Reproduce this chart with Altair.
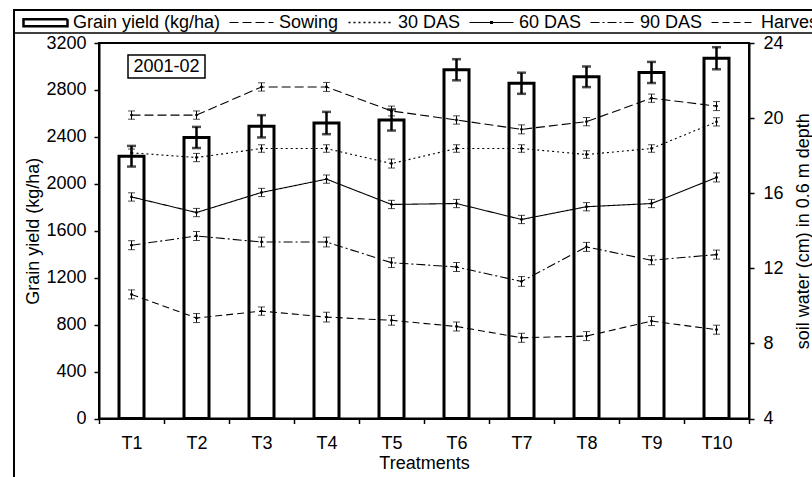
import altair as alt
import pandas as pd

# ---- data -------------------------------------------------------------
treatments = ["T1", "T2", "T3", "T4", "T5", "T6", "T7", "T8", "T9", "T10"]

grain_yield = [2235, 2395, 2490, 2518, 2544, 2972, 2857, 2912, 2949, 3070]
grain_yield_err = [88, 90, 95, 95, 90, 90, 90, 88, 90, 94]

series_names = ["Sowing", "30 DAS", "60 DAS", "90 DAS", "Harvest"]
water_sowing = [20.16, 20.16, 21.66, 21.66, 20.38, 19.90, 19.40, 19.81, 21.06, 20.64]
water_30das = [18.15, 17.90, 18.38, 18.38, 17.58, 18.38, 18.38, 18.06, 18.38, 19.80]
water_60das = [15.80, 14.97, 16.04, 16.75, 15.40, 15.45, 14.60, 15.28, 15.45, 16.84]
water_90das = [13.23, 13.72, 13.40, 13.40, 12.30, 12.07, 11.30, 13.14, 12.43, 12.73]
water_harvest = [10.61, 9.35, 9.72, 9.40, 9.23, 8.90, 8.30, 8.39, 9.19, 8.73]

err_sowing = [0.22, 0.22, 0.22, 0.24, 0.26, 0.22, 0.24, 0.22, 0.22, 0.24]
err_30das = [0.20, 0.22, 0.20, 0.20, 0.24, 0.20, 0.20, 0.20, 0.20, 0.22]
err_60das = [0.22, 0.22, 0.22, 0.22, 0.22, 0.22, 0.22, 0.22, 0.22, 0.24]
err_90das = [0.24, 0.24, 0.26, 0.26, 0.26, 0.24, 0.26, 0.24, 0.24, 0.24]
err_harvest = [0.24, 0.24, 0.22, 0.26, 0.26, 0.24, 0.24, 0.24, 0.24, 0.24]

season_label = "2001-02"
yield_label = "Grain yield (kg/ha)"

# ---- tables -----------------------------------------------------------
yield_df = pd.DataFrame({"treatment": treatments, "grain_yield": grain_yield,
                         "err": grain_yield_err})

water_values = [water_sowing, water_30das, water_60das, water_90das, water_harvest]
water_errs = [err_sowing, err_30das, err_60das, err_90das, err_harvest]
rows = []
for name, vals, errs in zip(series_names, water_values, water_errs):
    for t, v, e in zip(treatments, vals, errs):
        rows.append({"treatment": t, "series": name, "water": v, "err": e})
water_df = pd.DataFrame(rows)

legend_names = [yield_label] + series_names
legend_df = pd.DataFrame({"series": legend_names})

# ---- styles -----------------------------------------------------------
FONT = "Liberation Sans"
dashes = {
    "Sowing": [9, 4],
    "30 DAS": [2, 3],
    "60 DAS": [1, 0],
    "90 DAS": [9, 3, 2, 3],
    "Harvest": [7, 4],
}
line_path = "M-1,0H1"
dot_line_path = "M-1,0H1M-0.04,-0.04H0.04V0.04H-0.04Z"
rect_path = "M-1,-0.16H1V0.16H-1Z"

x_enc = alt.X(
    "treatment:N",
    sort=treatments,
    scale=alt.Scale(domain=treatments, paddingInner=0, paddingOuter=0),
    axis=alt.Axis(title="Treatments", labelAngle=0, tickBand="extent",
                  tickSize=5, labelPadding=11, titlePadding=2),
)

left_axis = alt.Axis(title=yield_label, values=[0, 400, 800, 1200, 1600, 2000, 2400, 2800, 3200],
                     format="d", tickSize=5, labelPadding=8, titlePadding=3)
left_scale = alt.Scale(domain=[0, 3200], nice=False, zero=True)

right_axis = alt.Axis(title="soil water (cm) in 0.6 m depth", orient="right",
                      values=[4, 8, 12, 16, 20, 24], tickSize=5, labelPadding=9,
                      titlePadding=11, titleAngle=270, titleBaseline="top")
right_scale = alt.Scale(domain=[4, 24], nice=False, zero=False)

# ---- grain yield bars with error bars (left axis) ----------------------
ybase = alt.Chart(yield_df).transform_calculate(
    lo="datum.grain_yield - datum.err", hi="datum.grain_yield + datum.err"
)
bars = ybase.mark_bar(fill="white", stroke="black", strokeWidth=3, width=25).encode(
    x=x_enc, y=alt.Y("grain_yield:Q", scale=left_scale, axis=left_axis)
)
bar_err = ybase.mark_rule(color="black", strokeWidth=2.5).encode(
    x=x_enc, y=alt.Y("lo:Q", scale=left_scale, axis=left_axis), y2="hi:Q"
)
bar_cap_lo = ybase.mark_tick(color="black", thickness=2.5, size=9).encode(
    x=x_enc, y=alt.Y("lo:Q", scale=left_scale, axis=left_axis)
)
bar_cap_hi = ybase.mark_tick(color="black", thickness=2.5, size=9).encode(
    x=x_enc, y=alt.Y("hi:Q", scale=left_scale, axis=left_axis)
)
yield_layer = alt.layer(bars, bar_err, bar_cap_lo, bar_cap_hi)

# ---- soil water lines (right axis) -------------------------------------
wbase = alt.Chart(water_df).transform_calculate(
    lo="datum.water - datum.err", hi="datum.water + datum.err"
)
water_marks = []
for name in series_names:
    water_marks.append(
        wbase.transform_filter(alt.datum.series == name)
        .mark_line(color="black", strokeWidth=1.1, strokeDash=dashes[name])
        .encode(x=x_enc, y=alt.Y("water:Q", scale=right_scale, axis=right_axis))
    )
w_err = wbase.mark_rule(color="black", strokeWidth=1).encode(
    x=x_enc, y=alt.Y("lo:Q", scale=right_scale, axis=right_axis), y2="hi:Q"
)
w_cap_lo = wbase.mark_tick(color="black", thickness=1, size=7).encode(
    x=x_enc, y=alt.Y("lo:Q", scale=right_scale, axis=right_axis)
)
w_cap_hi = wbase.mark_tick(color="black", thickness=1, size=7).encode(
    x=x_enc, y=alt.Y("hi:Q", scale=right_scale, axis=right_axis)
)
w_pts = wbase.mark_point(filled=True, color="black", size=8, opacity=1).encode(
    x=x_enc, y=alt.Y("water:Q", scale=right_scale, axis=right_axis)
)

# legend: one merged entry list for bars and lines
legend = alt.Legend(
    title=None, orient="none", legendX=-77, legendY=-44, direction="horizontal",
    columns=6, columnPadding=6, padding=0, labelOffset=4, labelLimit=400,
    labelFont=FONT, labelFontSize=18, labelColor="black", symbolSize=1936,
    symbolStrokeColor="black", symbolFillColor="transparent",
)
legend_layer = alt.Chart(legend_df).mark_point(filled=False, color="black", opacity=0).encode(
    shape=alt.Shape("series:N", legend=legend,
                    scale=alt.Scale(domain=legend_names,
                                    range=[rect_path, line_path, line_path,
                                           dot_line_path, line_path, line_path])),
    strokeDash=alt.StrokeDash("series:N", legend=legend,
                              scale=alt.Scale(domain=legend_names,
                                              range=[[1, 0]] + [dashes[n] for n in series_names])),
    strokeWidth=alt.StrokeWidth("series:N", legend=legend,
                                scale=alt.Scale(type="ordinal", domain=legend_names,
                                                range=[2.5, 1.2, 1.3, 1.2, 1.2, 1.2])),
)

water_layer = alt.layer(*water_marks, w_err, w_cap_lo, w_cap_hi, w_pts, legend_layer)

# ---- season tag and figure frame ---------------------------------------
tag_df = pd.DataFrame({"label": [season_label]})
tag_box = alt.Chart(tag_df).mark_rect(fill="white", stroke="black", strokeWidth=1.5).encode(
    x=alt.value(29), x2=alt.value(106), y=alt.value(12), y2=alt.value(35)
)
tag_text = alt.Chart(tag_df).mark_text(font=FONT, fontSize=18, color="black",
                                       align="center", baseline="middle").encode(
    text="label:N", x=alt.value(67.5), y=alt.value(24)
)

frame_left = alt.Chart(tag_df).mark_rule(color="black", strokeWidth=2).encode(
    x=alt.value(-85), y=alt.value(-33), y2=alt.value(460)
)
frame_top = alt.Chart(tag_df).mark_rule(color="black", strokeWidth=2).encode(
    x=alt.value(-86), x2=alt.value(760), y=alt.value(-33)
)
frame_legend = alt.Chart(tag_df).mark_rule(color="black", strokeWidth=1.5).encode(
    x=alt.value(-85), x2=alt.value(760), y=alt.value(-10)
)

chart = (
    alt.layer(yield_layer, water_layer, tag_box, tag_text, frame_left, frame_top, frame_legend)
    .resolve_scale(y="independent")
    .properties(
        width=650, height=375.5,
        autosize=alt.AutoSizeParams(type="none"),
        padding={"left": 99, "top": 43, "right": 63, "bottom": 58.5},
        background="white",
    )
    .configure_view(stroke="black", strokeWidth=2)
    .configure_axis(
        grid=False, domainColor="black", domainWidth=2, tickColor="black", tickWidth=1.5,
        labelColor="black", titleColor="black", labelFont=FONT, titleFont=FONT,
        labelFontSize=18, titleFontSize=18, titleFontWeight="normal",
    )
)

chart.save("out.html", embed_options={"renderer": "svg", "actions": False})
